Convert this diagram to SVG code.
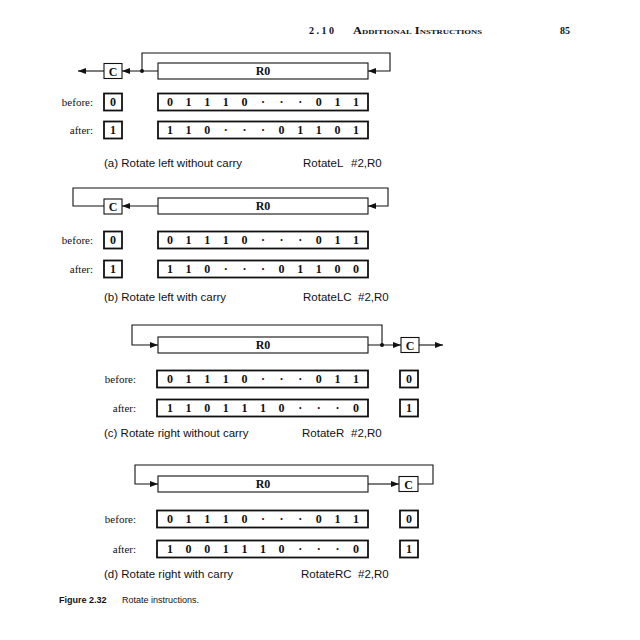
<svg xmlns="http://www.w3.org/2000/svg" width="640" height="640" viewBox="0 0 640 640">
  <defs>
    <marker id="ah" viewBox="0 0 8 6" refX="8" refY="3" markerWidth="8" markerHeight="6" orient="auto" markerUnits="userSpaceOnUse">
      <path d="M0,0 L8,3 L0,6 z" fill="#111"/>
    </marker>
  </defs>
  <style>
    .reg{fill:#fff;stroke:#111;stroke-width:1.1}
    .val{fill:#fff;stroke:#111;stroke-width:1.8}
    .ln{fill:none;stroke:#111;stroke-width:1.1}
    .arr{fill:none;stroke:#111;stroke-width:1.1;marker-end:url(#ah)}
    .dot{fill:#111}
    .lbl{font-family:"Liberation Serif",serif;font-size:11px;fill:#111;text-anchor:end}
    .nm{font-family:"Liberation Serif",serif;font-size:12px;font-weight:bold;fill:#111;text-anchor:middle}
    .dig{font-family:"Liberation Serif",serif;font-size:12px;font-weight:bold;fill:#111;text-anchor:middle}
    .cap{font-family:"Liberation Sans",Arial,sans-serif;font-size:11.5px;fill:#111}
    .hdr{font-family:"Liberation Serif",serif;font-size:10px;font-weight:bold;fill:#111}
    .fig{font-family:"Liberation Sans",Arial,sans-serif;font-size:9px;fill:#111}
  </style>

  <!-- running head -->
  <g id="header">
    <text class="hdr" x="309" y="34" letter-spacing="2.5">2.10</text>
    <text class="hdr" x="353" y="34" font-variant="small-caps" textLength="129" lengthAdjust="spacingAndGlyphs">Additional Instructions</text>
    <text class="hdr" x="560" y="34">85</text>
  </g>

  <!-- (a) rotate left without carry -->
  <g id="a-carry"><rect class="reg" x="104" y="63.5" width="18" height="15"/><text class="nm" x="113" y="75.5">C</text></g>
  <g id="a-r0"><rect class="reg" x="158" y="63" width="210" height="16"/><text class="nm" x="263" y="75">R0</text></g>
  <g id="a-before">
    <text class="lbl" x="93" y="106">before:</text>
    <rect class="val" x="104" y="93.5" width="18" height="17"/><text class="dig" x="113" y="106">0</text>
    <rect class="val" x="158" y="93.5" width="210" height="17"/>
    <text class="dig" x="170 188.6 207.2 225.8 244.4 263 281.6 300.2 318.8 337.4 356" y="106">01110···011</text>
  </g>
  <g id="a-after">
    <text class="lbl" x="93" y="134">after:</text>
    <rect class="val" x="104" y="121.5" width="18" height="17"/><text class="dig" x="113" y="134">1</text>
    <rect class="val" x="158" y="121.5" width="210" height="17"/>
    <text class="dig" x="170 188.6 207.2 225.8 244.4 263 281.6 300.2 318.8 337.4 356" y="134">110···01101</text>
  </g>
  <g id="a-caption">
    <text class="cap" x="104" y="167">(a) Rotate left without carry</text>
    <text class="cap" x="303" y="167">RotateL<tspan x="351">#2,R0</tspan></text>
  </g>

  <!-- (b) rotate left with carry -->
  <g id="b-carry"><rect class="reg" x="104" y="199" width="18" height="15"/><text class="nm" x="113" y="211">C</text></g>
  <g id="b-r0"><rect class="reg" x="158" y="198" width="210" height="16"/><text class="nm" x="263" y="210">R0</text></g>
  <g id="b-before">
    <text class="lbl" x="93" y="244">before:</text>
    <rect class="val" x="104" y="231.5" width="18" height="17"/><text class="dig" x="113" y="244">0</text>
    <rect class="val" x="158" y="231.5" width="210" height="17"/>
    <text class="dig" x="170 188.6 207.2 225.8 244.4 263 281.6 300.2 318.8 337.4 356" y="244">01110···011</text>
  </g>
  <g id="b-after">
    <text class="lbl" x="93" y="273">after:</text>
    <rect class="val" x="104" y="260.5" width="18" height="17"/><text class="dig" x="113" y="273">1</text>
    <rect class="val" x="158" y="260.5" width="210" height="17"/>
    <text class="dig" x="170 188.6 207.2 225.8 244.4 263 281.6 300.2 318.8 337.4 356" y="273">110···01100</text>
  </g>
  <g id="b-caption">
    <text class="cap" x="104" y="301">(b) Rotate left with carry</text>
    <text class="cap" x="303" y="301">RotateLC<tspan x="358">#2,R0</tspan></text>
  </g>

  <!-- (c) rotate right without carry -->
  <g id="c-r0"><rect class="reg" x="158" y="337" width="210" height="16"/><text class="nm" x="263" y="349">R0</text></g>
  <g id="c-carry"><rect class="reg" x="401" y="337.5" width="18" height="15"/><text class="nm" x="410" y="349.5">C</text></g>
  <g id="c-before">
    <text class="lbl" x="136" y="383">before:</text>
    <rect class="val" x="157" y="370.5" width="211" height="17"/>
    <text class="dig" x="170 188.6 207.2 225.8 244.4 263 281.6 300.2 318.8 337.4 356" y="383">01110···011</text>
    <rect class="val" x="400" y="370.5" width="18" height="17"/><text class="dig" x="409" y="383">0</text>
  </g>
  <g id="c-after">
    <text class="lbl" x="136" y="412">after:</text>
    <rect class="val" x="157" y="399.5" width="211" height="17"/>
    <text class="dig" x="170 188.6 207.2 225.8 244.4 263 281.6 300.2 318.8 337.4 356" y="412">1101110···0</text>
    <rect class="val" x="400" y="399.5" width="18" height="17"/><text class="dig" x="409" y="412">1</text>
  </g>
  <g id="c-caption">
    <text class="cap" x="104" y="437">(c) Rotate right without carry</text>
    <text class="cap" x="302" y="437">RotateR<tspan x="351">#2,R0</tspan></text>
  </g>

  <!-- (d) rotate right with carry -->
  <g id="d-r0"><rect class="reg" x="158" y="476" width="210" height="16"/><text class="nm" x="263" y="488">R0</text></g>
  <g id="d-carry"><rect class="reg" x="399" y="476.5" width="19" height="15"/><text class="nm" x="408.5" y="488.5">C</text></g>
  <g id="d-before">
    <text class="lbl" x="136" y="523">before:</text>
    <rect class="val" x="157" y="510.5" width="211" height="17"/>
    <text class="dig" x="170 188.6 207.2 225.8 244.4 263 281.6 300.2 318.8 337.4 356" y="523">01110···011</text>
    <rect class="val" x="400" y="510.5" width="18" height="17"/><text class="dig" x="409" y="523">0</text>
  </g>
  <g id="d-after">
    <text class="lbl" x="136" y="553">after:</text>
    <rect class="val" x="157" y="540.5" width="211" height="17"/>
    <text class="dig" x="170 188.6 207.2 225.8 244.4 263 281.6 300.2 318.8 337.4 356" y="553">1001110···0</text>
    <rect class="val" x="400" y="540.5" width="18" height="17"/><text class="dig" x="409" y="553">1</text>
  </g>
  <g id="d-caption">
    <text class="cap" x="104" y="578">(d) Rotate right with carry</text>
    <text class="cap" x="301" y="578">RotateRC<tspan x="358">#2,R0</tspan></text>
  </g>

  <!-- figure caption -->
  <g id="figure-caption">
    <text class="fig" x="59" y="603"><tspan font-weight="bold">Figure 2.32</tspan><tspan x="122">Rotate instructions.</tspan></text>
  </g>

  <!-- connectors -->
  <g id="connectors">
    <!-- (a) -->
    <path class="arr" d="M104,71 H78"/>
    <path class="arr" d="M158,71 H122"/>
    <path class="arr" d="M142,71 V53 H390 V71 H368"/>
    <circle class="dot" cx="142" cy="71" r="2"/>
    <!-- (b) -->
    <path class="arr" d="M158,206 H122"/>
    <path class="arr" d="M104,206 H73 V188 H388 V206 H368"/>
    <!-- (c) -->
    <path class="arr" d="M368,345 H401"/>
    <path class="arr" d="M419,345 H443"/>
    <path class="arr" d="M382,345 V325 H132 V345 H158"/>
    <circle class="dot" cx="382" cy="345" r="2"/>
    <!-- (d) -->
    <path class="arr" d="M368,484 H399"/>
    <path class="arr" d="M418,484 H433 V465 H135 V484 H158"/>
  </g>
</svg>
